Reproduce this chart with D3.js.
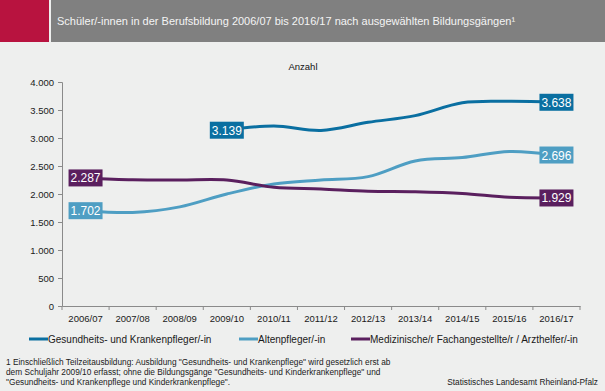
<!DOCTYPE html>
<html><head><meta charset="utf-8">
<script src="https://cdn.jsdelivr.net/npm/d3@7"></script>
<style>
html,body{margin:0;padding:0;background:#eeefee;}
svg{display:block;font-family:"Liberation Sans",Arial,sans-serif;}
</style></head>
<body><svg id="c" width="605" height="391"></svg>
<script>
const categories = ["2006/07","2007/08","2008/09","2009/10","2010/11","2011/12","2012/13","2013/14","2014/15","2015/16","2016/17"];
const gesundheit = [null,null,null,3139,3215,3135,3280,3399,3630,3655,3638];
const alten = [1702,1670,1770,2000,2180,2250,2310,2590,2650,2760,2696];
const medizin = [2287,2255,2250,2250,2120,2090,2050,2040,2010,1940,1929];
const yTicks = [0,500,1000,1500,2000,2500,3000,3500,4000];
const seriesNames = ["Gesundheits- und Krankenpfleger/-in","Altenpfleger/-in","Medizinische/r Fachangestellte/r / Arzthelfer/-in"];
const seriesColors = ["#0a6fa1","#4e9ec3","#5a1f5e"];
const title = "Schüler/-innen in der Berufsbildung 2006/07 bis 2016/17 nach ausgewählten Bildungsgängen¹";
const footnote = ["1 Einschließlich Teilzeitausbildung: Ausbildung \"Gesundheits- und Krankenpflege\" wird gesetzlich erst ab",
 "dem Schuljahr 2009/10 erfasst; ohne die Bildungsgänge \"Gesundheits- und Kinderkrankenpflege\" und",
 "\"Gesundheits- und Krankenpflege und Kinderkrankenpflege\"."];
const source = "Statistisches Landesamt Rheinland-Pfalz";

const svg = d3.select("#c");
svg.append("rect").attr("width",605).attr("height",391).attr("fill","#eeefee");
// header
svg.append("rect").attr("x",0).attr("y",0).attr("width",49).attr("height",42).attr("fill","#b8133f");
svg.append("rect").attr("x",51).attr("y",0).attr("width",554).attr("height",42).attr("fill","#808080");
svg.append("text").attr("x",57).attr("y",25).attr("fill","#f4f4f4").attr("font-size",11).text(title);
svg.append("text").attr("x",303).attr("y",70).attr("text-anchor","middle").attr("fill","#111").attr("font-size",9.5).text("Anzahl");

const x = d3.scaleBand().domain(categories).range([62,580]);
const y = d3.scaleLinear().domain([0,4000]).range([306,82]);
const cx = c => x(c) + x.bandwidth()/2;

// y axis
const ya = svg.append("g").attr("transform","translate(62,0)")
  .call(d3.axisLeft(y).tickValues(yTicks).tickSize(4).tickPadding(4)
    .tickFormat(d => d3.format(",")(d).replace(/,/g,".")));
ya.select(".domain").attr("stroke","#8a8a8a");
ya.selectAll(".tick line").attr("stroke","#8a8a8a");
ya.selectAll("text").attr("font-size",9.5).attr("fill","#1a1a1a").attr("font-family","Liberation Sans, Arial, sans-serif");

// x axis
const xa = svg.append("g").attr("transform","translate(0,306)")
  .call(d3.axisBottom(x).tickSize(0).tickPadding(9));
xa.select(".domain").attr("stroke","#8a8a8a");
xa.selectAll("text").attr("font-size",9.5).attr("fill","#1a1a1a").attr("font-family","Liberation Sans, Arial, sans-serif");
const edges = categories.map(c => x(c)).concat([x.range()[1]]);
xa.selectAll(".edge").data(edges).join("line").attr("class","edge")
  .attr("x1",d=>d).attr("x2",d=>d).attr("y1",0).attr("y2",4).attr("stroke","#8a8a8a");

const allSeries = [gesundheit, alten, medizin];
const line = d3.line().defined(d => d.v != null).x(d => cx(d.c)).y(d => y(d.v)).curve(d3.curveCardinal.tension(0));
allSeries.forEach((vals,i) => {
  const pts = categories.map((c,j) => ({c, v: vals[j]}));
  svg.append("path").datum(pts).attr("d", line).attr("fill","none")
    .attr("stroke", seriesColors[i]).attr("stroke-width",3);
});
// labels (first & last)
allSeries.forEach((vals,i) => {
  const idx = vals.map((v,j)=>v!=null?j:-1).filter(j=>j>=0);
  [idx[0], idx[idx.length-1]].forEach(j => {
    const px = cx(categories[j]), py = y(vals[j]);
    svg.append("rect").attr("x",px-17).attr("y",py-8.5).attr("width",34).attr("height",17).attr("fill",seriesColors[i]);
    svg.append("text").attr("x",px).attr("y",py+4.5).attr("text-anchor","middle").attr("fill","#fff")
      .attr("font-size",12).text(d3.format(",")(vals[j]).replace(/,/g,"."));
  });
});

// legend
const legX = [29,239,351];
seriesNames.forEach((n,i) => {
  svg.append("line").attr("x1",legX[i]).attr("x2",legX[i]+19).attr("y1",339).attr("y2",339)
    .attr("stroke",seriesColors[i]).attr("stroke-width",3);
  svg.append("text").attr("x",legX[i]+19).attr("y",342.5).attr("font-size",10).attr("fill","#1a1a1a").text(n);
});

// footnote
footnote.forEach((t,i) => {
  svg.append("text").attr("x",6).attr("y",365+i*10).attr("font-size",8.3).attr("fill","#1a1a1a").text(t);
});
svg.append("text").attr("x",598).attr("y",385).attr("text-anchor","end").attr("font-size",8.3).attr("fill","#1a1a1a").text(source);
</script></body></html>
